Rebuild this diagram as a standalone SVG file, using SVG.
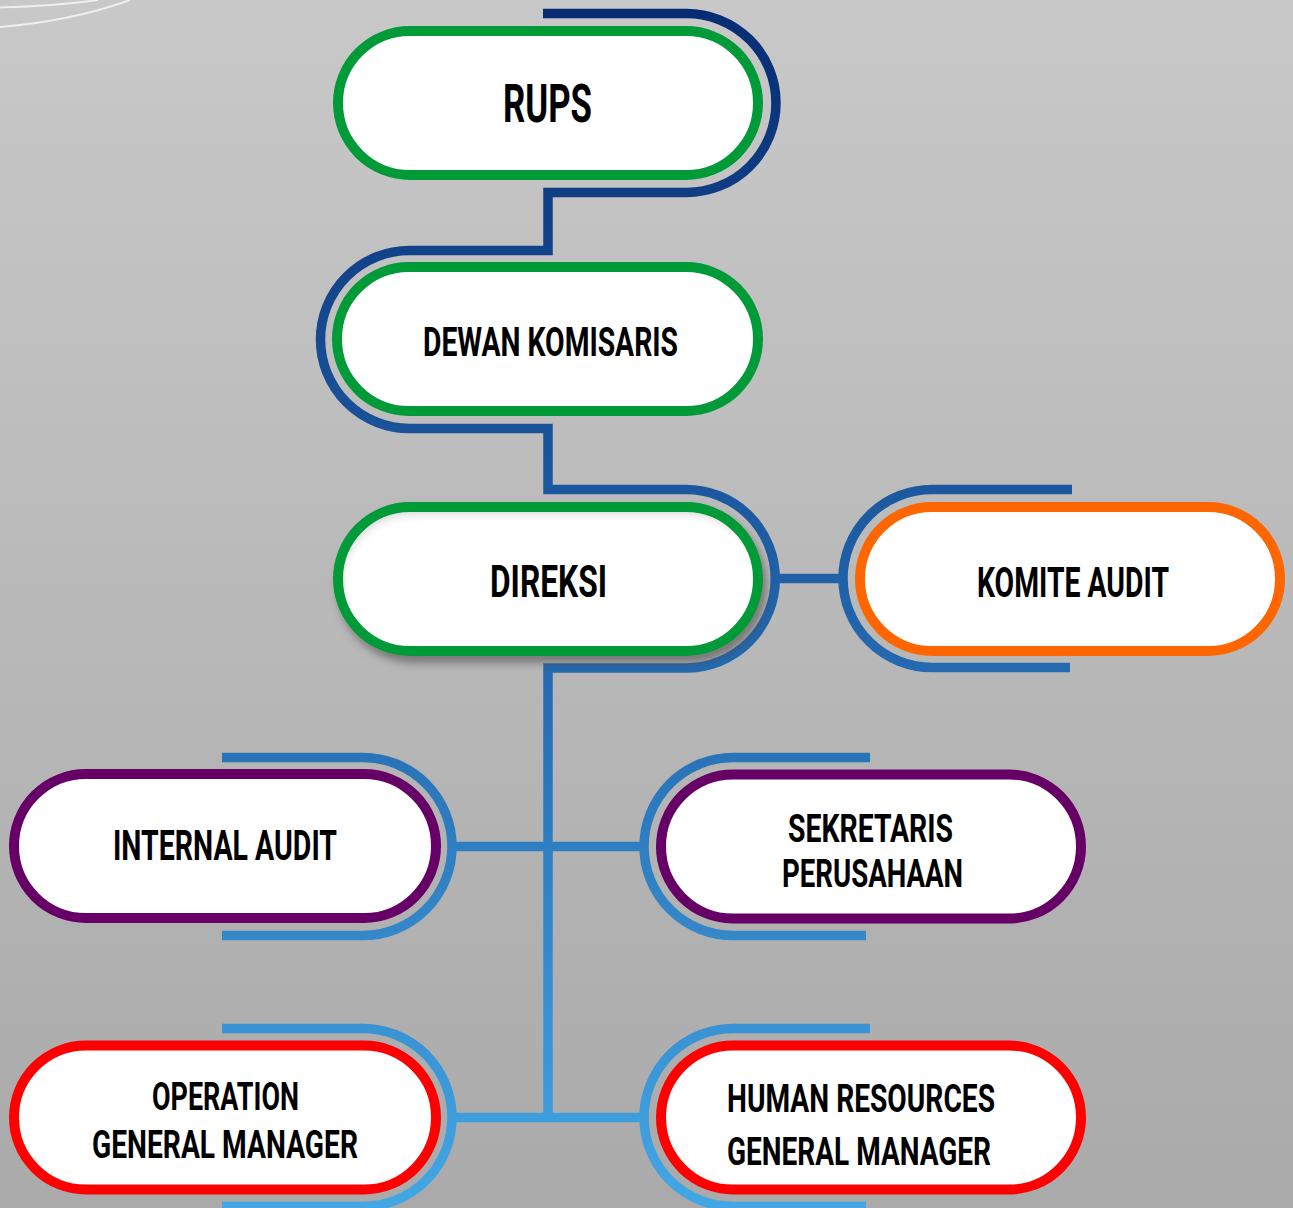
<svg xmlns="http://www.w3.org/2000/svg" width="1293" height="1208" viewBox="0 0 1293 1208">
  <defs>
    <linearGradient id="bg" x1="0" y1="0" x2="0" y2="1208" gradientUnits="userSpaceOnUse">
      <stop offset="0" stop-color="#c8c8c8"/>
      <stop offset="1" stop-color="#aaaaaa"/>
    </linearGradient>
    <linearGradient id="lineGrad" x1="0" y1="10" x2="0" y2="1208" gradientUnits="userSpaceOnUse">
      <stop offset="0" stop-color="#082c73"/>
      <stop offset="0.5" stop-color="#2163aa"/>
      <stop offset="1" stop-color="#43a7e5"/>
    </linearGradient>
    <filter id="drop" x="-10%" y="-20%" width="125%" height="150%">
      <feDropShadow dx="4" dy="7" stdDeviation="4" flood-color="#444" flood-opacity="0.55"/>
    </filter>
    <filter id="inset" x="-5%" y="-10%" width="110%" height="120%">
      <feOffset in="SourceAlpha" dx="3" dy="7"/>
      <feGaussianBlur stdDeviation="4" result="o"/>
      <feComposite operator="out" in="SourceAlpha" in2="o" result="inv"/>
      <feFlood flood-color="#000" flood-opacity="0.35"/>
      <feComposite operator="in" in2="inv" result="sh"/>
      <feComposite operator="over" in="sh" in2="SourceGraphic"/>
    </filter>
  </defs>
  <style>
    .pill { fill: #ffffff; stroke-width: 10; }
    .green { stroke: #009a38; }
    .orange { stroke: #ff6600; }
    .purple { stroke: #660066; }
    .red { stroke: #ff0000; }
    .conn { fill: none; stroke: url(#lineGrad); stroke-width: 9.5; stroke-linejoin: miter; stroke-linecap: butt; }
    .deco { fill: none; stroke: #f2f2f2; stroke-width: 2; opacity: 0.9; }
    .lbl { font-family: "Liberation Sans Narrow", "Roboto", "Liberation Sans", sans-serif; font-weight: bold; fill: #000000; text-anchor: middle; }
  </style>

  <rect x="0" y="0" width="1293" height="1208" fill="url(#bg)"/>
  <path class="deco" d="M0,7.5 Q55,6 98,0"/>
  <path class="deco" d="M0,27 Q72,21 130,0"/>

  <g id="connectors">
    <path class="conn" d="M543,13.5 H686.5 A89.5,89.5 0 0 1 686.5,192.5 H548 V250.5 H409.5 A89,89 0 0 0 409.5,428.5 H548 V489.5 H686 A89.25,89.25 0 0 1 686,668 H548 V1122"/>
    <path class="conn" d="M1072,489.5 H932 A89,89 0 0 0 932,667.5 H1070"/>
    <path class="conn" d="M775,578.5 H843"/>
    <path class="conn" d="M222,757.5 H363 A89,89 0 0 1 363,935.5 H222"/>
    <path class="conn" d="M870,757.5 H733 A89,89 0 0 0 733,935.5 H866"/>
    <path class="conn" d="M452,846.5 H644"/>
    <path class="conn" d="M222,1028.5 H363 A89,89 0 0 1 363,1206.5 H222"/>
    <path class="conn" d="M870,1028.5 H733 A89,89 0 0 0 733,1206.5 H866"/>
    <path class="conn" d="M452,1117.5 H644"/>
  </g>

  <g id="node-rups">
    <rect class="pill green" x="338" y="31" width="420" height="144" rx="72"/>
    <text class="lbl" x="547.5" y="122" font-size="54" textLength="89" lengthAdjust="spacingAndGlyphs">RUPS</text>
  </g>

  <g id="node-dewan-komisaris">
    <rect class="pill green" x="337" y="267" width="421" height="144" rx="72"/>
    <text class="lbl" x="550.5" y="356" font-size="40" textLength="255" lengthAdjust="spacingAndGlyphs">DEWAN KOMISARIS</text>
  </g>

  <g id="node-direksi">
    <g filter="url(#drop)">
      <rect x="338" y="507" width="420" height="144" rx="72" fill="#ffffff" filter="url(#inset)"/>
      <rect x="338" y="507" width="420" height="144" rx="72" fill="none" stroke="#009a38" stroke-width="10"/>
    </g>
    <text class="lbl" x="548.5" y="597" font-size="44" textLength="117" lengthAdjust="spacingAndGlyphs">DIREKSI</text>
  </g>

  <g id="node-komite-audit">
    <rect class="pill orange" x="860" y="507" width="420" height="144" rx="72"/>
    <text class="lbl" x="1073" y="597" font-size="42" textLength="192" lengthAdjust="spacingAndGlyphs">KOMITE AUDIT</text>
  </g>

  <g id="node-internal-audit">
    <rect class="pill purple" x="14" y="774" width="422" height="144" rx="72"/>
    <text class="lbl" x="225" y="860" font-size="42" textLength="224" lengthAdjust="spacingAndGlyphs">INTERNAL AUDIT</text>
  </g>

  <g id="node-sekretaris-perusahaan">
    <rect class="pill purple" x="661" y="774.5" width="420" height="144" rx="72"/>
    <text class="lbl" x="870.5" y="842" font-size="39" textLength="165" lengthAdjust="spacingAndGlyphs">SEKRETARIS</text>
    <text class="lbl" x="872.5" y="887" font-size="39" textLength="181" lengthAdjust="spacingAndGlyphs">PERUSAHAAN</text>
  </g>

  <g id="node-operation-gm">
    <rect class="pill red" x="14" y="1045.5" width="422" height="144" rx="72"/>
    <text class="lbl" x="225.5" y="1110" font-size="39" textLength="147" lengthAdjust="spacingAndGlyphs">OPERATION</text>
    <text class="lbl" x="225" y="1158" font-size="39" textLength="266" lengthAdjust="spacingAndGlyphs">GENERAL MANAGER</text>
  </g>

  <g id="node-hr-gm">
    <rect class="pill red" x="661" y="1045.5" width="420" height="144" rx="72"/>
    <text class="lbl" x="861" y="1112" font-size="39" textLength="268" lengthAdjust="spacingAndGlyphs">HUMAN RESOURCES</text>
    <text class="lbl" x="859" y="1165" font-size="39" textLength="264" lengthAdjust="spacingAndGlyphs">GENERAL MANAGER</text>
  </g>
</svg>
